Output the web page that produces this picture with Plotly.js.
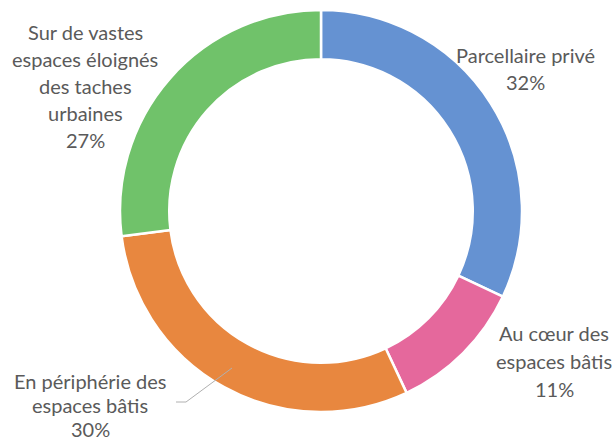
<!DOCTYPE html>
<html>
<head>
<meta charset="utf-8">
<script src="https://cdn.plot.ly/plotly-3.0.1.min.js"></script>
<style>html,body{margin:0;padding:0;background:#fff;}#chart{width:615px;height:441px;}</style>
</head>
<body>
<div id="chart"></div>
<script>
// Data
const categories = ['Parcellaire privé', 'Au cœur des espaces bâtis', 'En périphérie des espaces bâtis', 'Sur de vastes espaces éloignés des taches urbaines'];
const values = [32, 11, 30, 27];
const labelLines = [
  ['Parcellaire privé'],
  ['Au cœur des', 'espaces bâtis'],
  ['En périphérie des', 'espaces bâtis'],
  ['Sur de vastes', 'espaces éloignés', 'des taches', 'urbaines']
];
const colors = ['#6592d2', '#e5689c', '#e8873f', '#70c26a'];

// Label placement (pixels): center x, first-line center y, line spacing
const W = 615, H = 441;
const labelPos = [
  {x: 525, y: 55, dy: 27},
  {x: 554, y: 333, dy: 28},
  {x: 90, y: 381, dy: 24},
  {x: 85, y: 32, dy: 27}
];

const annotations = [];
categories.forEach((c, i) => {
  const lines = labelLines[i].concat([values[i] + '%']);
  lines.forEach((t, j) => {
    annotations.push({
      text: t, showarrow: false,
      xref: 'paper', yref: 'paper',
      x: labelPos[i].x / W, y: 1 - (labelPos[i].y + j * labelPos[i].dy) / H,
      xanchor: 'center', yanchor: 'middle',
      font: {family: 'Lato, sans-serif', size: 20, color: '#5a5a5a'}
    });
  });
});

const trace = {
  type: 'pie',
  labels: categories,
  values: values,
  hole: 0.755,
  sort: false,
  direction: 'clockwise',
  rotation: 0,
  textinfo: 'none',
  hoverinfo: 'label+percent',
  marker: {colors: colors, line: {color: '#ffffff', width: 2.5}},
  domain: {x: [120 / W, 522 / W], y: [1 - 412 / H, 1 - 10 / H]},
  showlegend: false
};

const layout = {
  width: W, height: H,
  margin: {l: 0, r: 0, t: 0, b: 0},
  paper_bgcolor: '#ffffff',
  showlegend: false,
  annotations: annotations,
  shapes: [{
    type: 'path', xref: 'paper', yref: 'paper',
    path: 'M ' + (176 / W) + ' ' + (1 - 402 / H) + ' L ' + (186 / W) + ' ' + (1 - 402 / H) + ' L ' + (232 / W) + ' ' + (1 - 368 / H),
    line: {color: '#b0b0b0', width: 1}
  }]
};

Plotly.newPlot('chart', [trace], layout, {displayModeBar: false, staticPlot: true});
</script>
</body>
</html>
